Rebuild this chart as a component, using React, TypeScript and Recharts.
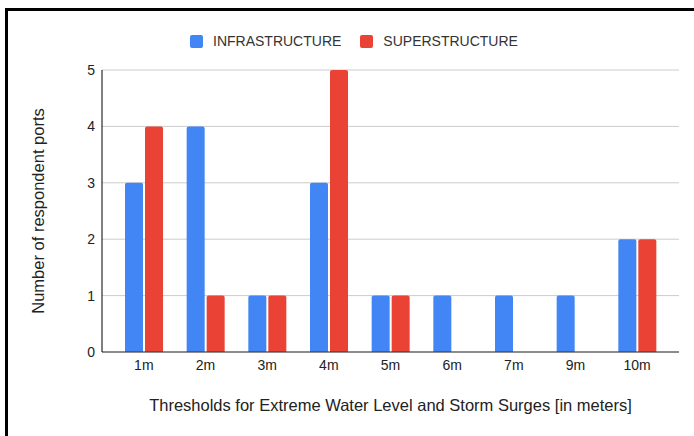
import { BarChart, Bar, XAxis, YAxis, CartesianGrid } from "recharts"

const categories = ["1m", "2m", "3m", "4m", "5m", "6m", "7m", "9m", "10m"]
const infrastructure = [3, 4, 1, 3, 1, 1, 1, 1, 2]
const superstructure = [4, 1, 1, 5, 1, 0, 0, 0, 2]
const yTicks = [0, 1, 2, 3, 4, 5]

const BLUE = "#4285F4"
const RED = "#EA4335"
const FONT = "Arial, 'Liberation Sans', sans-serif"

const data = categories.map((name, i) => ({
  name,
  infrastructure: infrastructure[i],
  superstructure: superstructure[i],
}))

function LegendItem({ color, label }: { color: string; label: string }) {
  return (
    <div style={{ display: "flex", alignItems: "center", marginRight: 19 }}>
      <div
        style={{
          width: 13,
          height: 13,
          borderRadius: 2,
          background: color,
          marginRight: 10,
        }}
      />
      <span style={{ fontSize: 14, color: "#333" }}>{label}</span>
    </div>
  )
}

export default function App() {
  return (
    <div
      style={{
        position: "absolute",
        left: 0,
        top: 0,
        width: 694,
        height: 436,
        background: "#fff",
        fontFamily: FONT,
        overflow: "hidden",
      }}
    >
      <div
        style={{
          position: "absolute",
          left: 5,
          top: 8,
          right: -10,
          bottom: -10,
          borderLeft: "3px solid #000",
          borderTop: "3px solid #000",
        }}
      />
      <div
        style={{
          position: "absolute",
          left: 190,
          top: 33,
          display: "flex",
          alignItems: "center",
        }}
      >
        <LegendItem color={BLUE} label="INFRASTRUCTURE" />
        <LegendItem color={RED} label="SUPERSTRUCTURE" />
      </div>
      <BarChart
        width={694}
        height={436}
        data={data}
        margin={{ top: 70, right: 15, bottom: 54, left: 0 }}
        barSize={18}
        barGap={2}
        style={{ position: "absolute", left: 0, top: 0 }}
      >
        <CartesianGrid vertical={false} stroke="#ccc" />
        <XAxis
          dataKey="name"
          height={30}
          padding={{ left: 11, right: 11 }}
          tickLine={false}
          axisLine={{ stroke: "#333" }}
          tick={{ fontSize: 14, fill: "#222", fontFamily: FONT }}
          tickMargin={2}
          label={{
            value: "Thresholds for Extreme Water Level and Storm Surges [in meters]",
            position: "bottom",
            offset: 17,
            style: { fontSize: 16.5, fill: "#222", fontFamily: FONT },
          }}
        />
        <YAxis
          width={102}
          domain={[0, 5]}
          ticks={yTicks}
          tickLine={false}
          axisLine={{ stroke: "#000" }}
          tick={{ fontSize: 14, fill: "#222", fontFamily: FONT }}
          tickMargin={1}
          label={{
            value: "Number of respondent ports",
            angle: -90,
            position: "insideLeft",
            offset: 38,
            style: { fontSize: 16.5, fill: "#222", fontFamily: FONT, textAnchor: "middle" },
          }}
        />
        <Bar dataKey="infrastructure" fill={BLUE} radius={[2, 2, 0, 0]} isAnimationActive={false} />
        <Bar dataKey="superstructure" fill={RED} radius={[2, 2, 0, 0]} isAnimationActive={false} />
      </BarChart>
    </div>
  )
}
